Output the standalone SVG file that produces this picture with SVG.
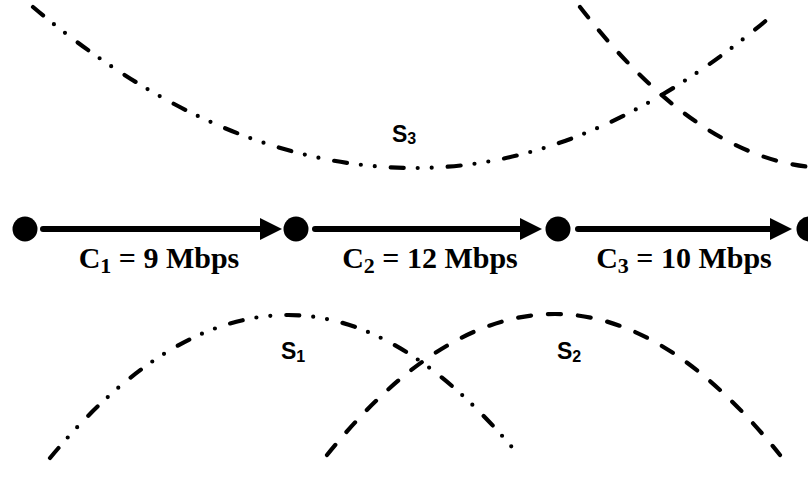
<svg xmlns="http://www.w3.org/2000/svg" width="808" height="479" viewBox="0 0 808 479">
<style>
.curve{fill:none;stroke:#000;stroke-width:4.2;stroke-linecap:round}
.dash{stroke-dasharray:13 17}
.dashdot{stroke-dasharray:13 14 0 14 0 16}
.link{fill:none;stroke:#000;stroke-width:6;stroke-linecap:round}
.node{fill:#000}
.cap{font-family:"Liberation Serif","Times New Roman",serif;font-weight:bold;font-size:30px;fill:#000}
.sl{font-family:"Liberation Sans",Arial,sans-serif;font-weight:bold;font-size:23px;fill:#000}
.sub{font-size:16px}
.csub{font-size:22px}
</style>
<defs>
<marker id="arr" viewBox="0 0 22 22" markerWidth="22" markerHeight="22" refX="10" refY="11" orient="auto" markerUnits="userSpaceOnUse">
<path d="M0,0 L22,11 L0,22 z" fill="#000"/>
</marker>
</defs>
<rect width="808" height="479" fill="#fff"/>
<g id="regions">
<path id="S3-curve" class="curve dashdot" d="M33,7 Q224,168 415,168 Q594,168 775,13"/>
<path id="S4-curve" class="curve dash" d="M580,7 Q705,168 830,168"/>
<path id="S1-curve" class="curve dashdot" d="M50,458 Q169,315 288,315 Q404,315 521,458"/>
<path id="S2-curve" class="curve dash" d="M327,455 Q441,314 555,314 Q667,314 780,455"/>
</g>
<g id="connectors">
<line class="link" x1="43" y1="229" x2="270" y2="229" marker-end="url(#arr)"/>
<line class="link" x1="315" y1="229" x2="530" y2="229" marker-end="url(#arr)"/>
<line class="link" x1="578" y1="229" x2="780" y2="229" marker-end="url(#arr)"/>
</g>
<g id="n1"><circle class="node" cx="25" cy="229" r="12.5"/></g>
<g id="n2"><circle class="node" cx="296" cy="229" r="12.5"/></g>
<g id="n3"><circle class="node" cx="558" cy="229" r="12.5"/></g>
<g id="n4"><circle class="node" cx="809" cy="229" r="12.5"/></g>
<g id="labels">
<text class="cap" x="159" y="268" text-anchor="middle">C<tspan class="csub" dy="5">1</tspan><tspan dy="-5"> = 9 Mbps</tspan></text>
<text class="cap" x="430" y="268" text-anchor="middle">C<tspan class="csub" dy="5">2</tspan><tspan dy="-5"> = 12 Mbps</tspan></text>
<text class="cap" x="684" y="268" text-anchor="middle">C<tspan class="csub" dy="5">3</tspan><tspan dy="-5"> = 10 Mbps</tspan></text>
<text class="sl" x="392" y="142">S<tspan class="sub" dy="1.5">3</tspan></text>
<text class="sl" x="281" y="359">S<tspan class="sub" dy="2.5">1</tspan></text>
<text class="sl" x="557" y="359">S<tspan class="sub" dy="2.5">2</tspan></text>
</g>
</svg>
